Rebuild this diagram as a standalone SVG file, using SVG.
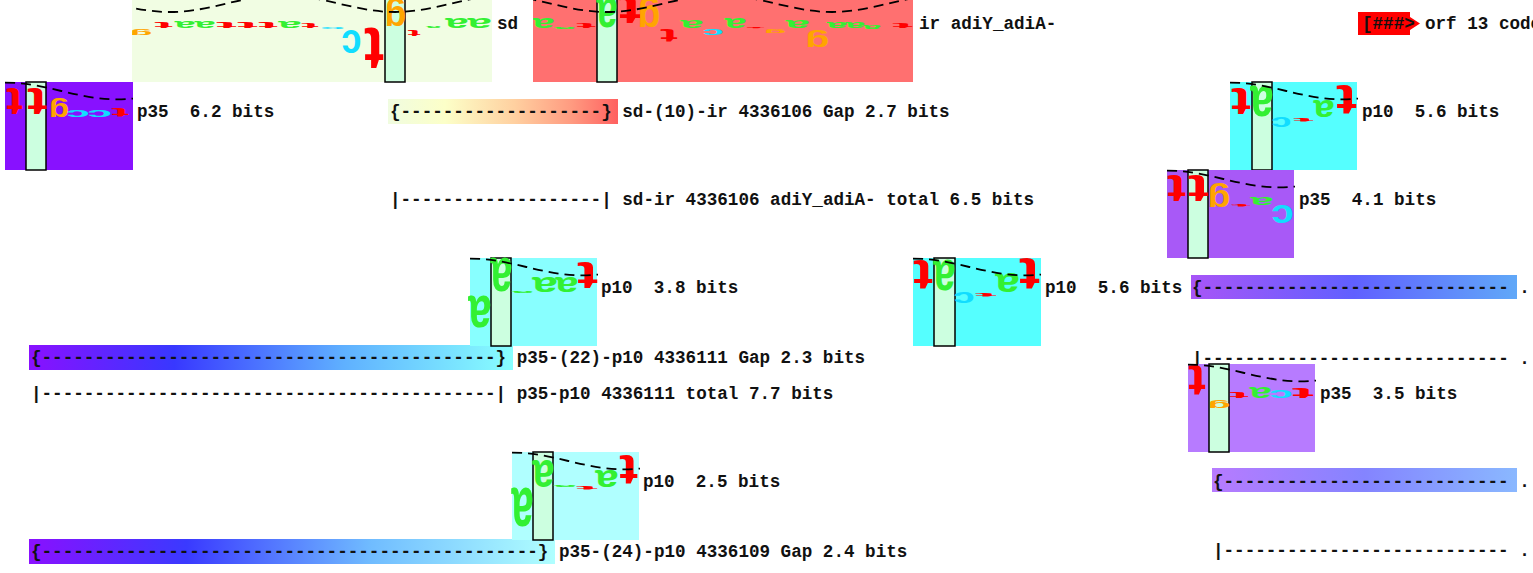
<svg xmlns="http://www.w3.org/2000/svg" xmlns:xlink="http://www.w3.org/1999/xlink" width="1533" height="573" viewBox="0 0 1533 573" xml:space="preserve">
<style>
.lbl{font-family:"Liberation Mono","DejaVu Sans Mono",monospace;font-weight:bold;font-size:17.6px;fill:#111;white-space:pre}
.L{font-family:"Liberation Sans",Arial,sans-serif;font-weight:bold;font-size:100px;text-anchor:middle}
.a{fill:#33F033}.c{fill:#11DDFF}.g{fill:#FFA500}.t{fill:#FF0000}
.col{fill:#CCFFE0;stroke:#000;stroke-width:1.5}
.helix{fill:none;stroke:#000;stroke-width:1.8;stroke-dasharray:10 6}
</style>
<defs>
<path id="hc" d="M0,0.6 C41,0.6 71.5,17.4 112.5,17.4 C118,17.4 123,17 128,16.6"/>
<clipPath id="clipSd"><rect x="132" y="0" width="360" height="82"/></clipPath>
<clipPath id="clipIr"><rect x="533" y="0" width="380" height="82"/></clipPath>
<linearGradient id="gSdIr" x1="0" x2="1" y1="0" y2="0">
<stop offset="0" stop-color="#F0FCE0"/><stop offset="0.25" stop-color="#FCFFC8"/><stop offset="0.55" stop-color="#FFD0A0"/><stop offset="0.8" stop-color="#FF9A80"/><stop offset="1" stop-color="#FF6060"/>
</linearGradient>
<linearGradient id="gL1" x1="0" x2="1" y1="0" y2="0">
<stop offset="0" stop-color="#8A10FF"/><stop offset="0.3" stop-color="#3838FF"/><stop offset="0.65" stop-color="#5FB0FF"/><stop offset="1" stop-color="#88FFFF"/>
</linearGradient>
<linearGradient id="gL2" x1="0" x2="1" y1="0" y2="0">
<stop offset="0" stop-color="#8A10FF"/><stop offset="0.3" stop-color="#3A3AFF"/><stop offset="0.65" stop-color="#70BCFF"/><stop offset="1" stop-color="#B0FFFF"/>
</linearGradient>
<linearGradient id="gR1" x1="0" x2="1" y1="0" y2="0">
<stop offset="0" stop-color="#A855F7"/><stop offset="0.5" stop-color="#6060FF"/><stop offset="1" stop-color="#60A8F8"/>
</linearGradient>
<linearGradient id="gR2" x1="0" x2="1" y1="0" y2="0">
<stop offset="0" stop-color="#B77BFF"/><stop offset="0.5" stop-color="#8484FF"/><stop offset="1" stop-color="#8AB8FF"/>
</linearGradient>
</defs>

<g id="connectors">
<rect x="388" y="99" width="230" height="25" fill="url(#gSdIr)"/>
<rect x="29" y="345" width="484" height="25" fill="url(#gL1)"/>
<rect x="29" y="539" width="526" height="25" fill="url(#gL2)"/>
<rect x="1191" y="275" width="326" height="24" fill="url(#gR1)"/>
<rect x="1212" y="468" width="305" height="24" fill="url(#gR2)"/>
<text class="lbl" x="390" y="117">{-------------------} sd-(10)-ir 4336106 Gap 2.7 bits</text>
<text class="lbl" x="390" y="205">|-------------------| sd-ir 4336106 adiY_adiA- total 6.5 bits</text>
<text class="lbl" x="31" y="363">{-------------------------------------------} p35-(22)-p10 4336111 Gap 2.3 bits</text>
<text class="lbl" x="31" y="399">|-------------------------------------------| p35-p10 4336111 total 7.7 bits</text>
<text class="lbl" x="31" y="557">{-----------------------------------------------} p35-(24)-p10 4336109 Gap 2.4 bits</text>
<text class="lbl" x="1192" y="293">{----------------------------- .</text>
<text class="lbl" x="1192" y="364">|----------------------------- .</text>
<text class="lbl" x="1213" y="487">{--------------------------- .</text>
<text class="lbl" x="1213" y="556">|--------------------------- .</text>
</g>

<g id="orf">
<polygon points="1358,12 1410,12 1410,17 1420,23.5 1410,30 1410,35 1358,35" fill="#FF0000"/>
<text class="lbl" x="1362" y="29">[###&gt;</text>
<text class="lbl" x="1425" y="29">orf 13 code</text>
</g>

<g id="logo-sd">
<rect x="132" y="0" width="360" height="82" fill="#F1FDE3"/>
<rect class="col" x="385" y="-2" width="20" height="84"/>
<g clip-path="url(#clipSd)">
<text class="L g" transform="translate(141 30.7) scale(-0.375 -0.08)">g</text>
<text class="L t" transform="translate(163.5 22) scale(-0.567 -0.0845)">t</text>
<text class="L a" transform="translate(185 21) scale(-0.375 -0.13)">a</text>
<text class="L a" transform="translate(205 21) scale(-0.375 -0.13)">a</text>
<text class="L t" transform="translate(226.5 22) scale(-0.633 -0.0845)">t</text>
<text class="L t" transform="translate(247.5 22) scale(-0.633 -0.0845)">t</text>
<text class="L t" transform="translate(268 22) scale(-0.6 -0.0845)">t</text>
<text class="L a" transform="translate(290 21) scale(-0.417 -0.13)">a</text>
<text class="L t" transform="translate(310 23) scale(-0.533 -0.07)">t</text>
<text class="L c" transform="translate(332.5 27) scale(-0.447 -0.037)">c</text>
<text class="L c" transform="translate(351.5 30) scale(-0.362 -0.426)">c</text>
<text class="L t" transform="translate(374 28) scale(-0.6 -0.62)">t</text>
<text class="L g" transform="translate(395.5 5.56) scale(-0.354 -0.36)">g</text>
<text class="L t" transform="translate(414 30) scale(-0.4 -0.0986)">t</text>
<text class="L a" transform="translate(433.5 26) scale(-0.27 -0.037)">a</text>
<text class="L a" transform="translate(457 18) scale(-0.417 -0.185)">a</text>
<text class="L a" transform="translate(479.5 18) scale(-0.4375 -0.185)">a</text>
</g>
<path class="helix" clip-path="url(#clipSd)" d="M57.5,-4.8 C98.5,-4.8 129,12 170,12 C211,12 241.5,-4.8 282.5,-4.8 C323.5,-4.8 354,12 395,12 C436,12 466.5,-4.8 507.5,-4.8"/>
<text class="lbl" x="497" y="29">sd</text>
</g>

<g id="logo-ir">
<rect x="533" y="0" width="380" height="82" fill="#FF7070"/>
<rect class="col" x="597" y="-2" width="20" height="84"/>
<g clip-path="url(#clipIr)">
<text class="L a" transform="translate(543.5 18) scale(-0.396 -0.185)">a</text>
<text class="L a" transform="translate(564.5 27) scale(-0.396 -0.028)">a</text>
<text class="L t" transform="translate(586 23) scale(-0.6 -0.07)">t</text>
<text class="L a" transform="translate(607 -2) scale(-0.375 -0.556)">a</text>
<text class="L t" transform="translate(630 -4) scale(-0.667 -0.408)">t</text>
<text class="L g" transform="translate(649 5.4) scale(-0.375 -0.4)">g</text>
<text class="L t" transform="translate(669 29) scale(-0.533 -0.183)">t</text>
<text class="L a" transform="translate(692 20) scale(-0.417 -0.148)">a</text>
<text class="L c" transform="translate(713 29) scale(-0.383 -0.111)">c</text>
<text class="L a" transform="translate(735.5 18) scale(-0.396 -0.185)">a</text>
<text class="L t" transform="translate(755.5 27) scale(-0.567 -0.021)">t</text>
<text class="L g" transform="translate(775 30.1) scale(-0.375 -0.053)">g</text>
<text class="L a" transform="translate(797.5 20) scale(-0.4375 -0.148)">a</text>
<text class="L g" transform="translate(817.5 34.76) scale(-0.396 -0.227)">g</text>
<text class="L a" transform="translate(837 22) scale(-0.375 -0.111)">a</text>
<text class="L a" transform="translate(855.5 22) scale(-0.354 -0.111)">a</text>
<text class="L a" transform="translate(872 25) scale(-0.333 -0.074)">a</text>
<text class="L t" transform="translate(902.5 23) scale(-0.633 -0.07)">t</text>
</g>
<path class="helix" clip-path="url(#clipIr)" d="M494.5,-4.8 C535.5,-4.8 566,12 607,12 C648,12 678.5,-4.8 719.5,-4.8 C760.5,-4.8 791,12 832,12 C873,12 903.5,-4.8 944.5,-4.8"/>
<text class="lbl" x="919" y="29">ir adiY_adiA-</text>
</g>

<g id="logo-p35-a">
<rect x="5" y="82" width="128" height="88" fill="#8811FF"/>
<rect class="col" x="26" y="82" width="20" height="88"/>
<text class="L t" transform="translate(14.5 88) scale(-0.5 -0.38)">t</text>
<text class="L t" transform="translate(37 88) scale(-0.6 -0.38)">t</text>
<text class="L g" transform="translate(59 103.3) scale(-0.333 -0.253)">g</text>
<text class="L c" transform="translate(78 110) scale(-0.426 -0.13)">c</text>
<text class="L c" transform="translate(99.5 110) scale(-0.447 -0.13)">c</text>
<text class="L t" transform="translate(120 108) scale(-0.533 -0.127)">t</text>
<use href="#hc" class="helix" x="5" y="82"/>
<text class="lbl" x="137" y="117">p35  6.2 bits</text>
</g>

<g id="logo-p10-a">
<rect x="1230" y="82" width="127" height="88" fill="#55FFFF"/>
<rect class="col" x="1252" y="82" width="20" height="88"/>
<text class="L t" transform="translate(1241 88) scale(-0.6 -0.38)">t</text>
<text class="L a" transform="translate(1262 86) scale(-0.417 -0.574)">a</text>
<text class="L c" transform="translate(1281.5 117) scale(-0.362 -0.185)">c</text>
<text class="L t" transform="translate(1303.5 118) scale(-0.633 -0.056)">t</text>
<text class="L a" transform="translate(1324 100) scale(-0.375 -0.315)">a</text>
<text class="L t" transform="translate(1346.5 85) scale(-0.633 -0.423)">t</text>
<use href="#hc" class="helix" x="1230" y="82"/>
<text class="lbl" x="1362" y="117">p10  5.6 bits</text>
</g>

<g id="logo-p35-b">
<rect x="1167" y="170" width="127" height="88" fill="#A859F7"/>
<rect class="col" x="1188" y="170" width="20" height="88"/>
<text class="L t" transform="translate(1176.5 175) scale(-0.567 -0.394)">t</text>
<text class="L t" transform="translate(1198.5 175) scale(-0.633 -0.394)">t</text>
<text class="L g" transform="translate(1219 189.7) scale(-0.375 -0.32)">g</text>
<text class="L t" transform="translate(1241 204) scale(-0.6 -0.028)">t</text>
<text class="L a" transform="translate(1262 197) scale(-0.417 -0.148)">a</text>
<text class="L c" transform="translate(1282.5 205) scale(-0.404 -0.333)">c</text>
<use href="#hc" class="helix" x="1167" y="170"/>
<text class="lbl" x="1299" y="205">p35  4.1 bits</text>
</g>

<g id="logo-p10-b">
<rect x="470" y="258" width="127" height="88" fill="#88FFFF"/>
<rect class="col" x="491" y="258" width="20" height="88"/>
<text class="L a" transform="translate(480 296) scale(-0.417 -0.593)">a</text>
<text class="L a" transform="translate(501.5 258) scale(-0.396 -0.63)">a</text>
<text class="L a" transform="translate(522.5 291) scale(-0.396 -0.037)">a</text>
<text class="L a" transform="translate(545 277) scale(-0.458 -0.278)">a</text>
<text class="L a" transform="translate(567 277) scale(-0.417 -0.278)">a</text>
<text class="L t" transform="translate(587.5 262) scale(-0.633 -0.394)">t</text>
<use href="#hc" class="helix" x="470" y="258"/>
<text class="lbl" x="601" y="293">p10  3.8 bits</text>
</g>

<g id="logo-p10-c">
<rect x="913" y="258" width="128" height="88" fill="#55FFFF"/>
<rect class="col" x="934" y="258" width="21" height="88"/>
<text class="L t" transform="translate(923 260) scale(-0.6 -0.423)">t</text>
<text class="L a" transform="translate(944.5 260) scale(-0.396 -0.574)">a</text>
<text class="L c" transform="translate(964 292) scale(-0.383 -0.204)">c</text>
<text class="L t" transform="translate(986 293) scale(-0.667 -0.056)">t</text>
<text class="L a" transform="translate(1007.5 273) scale(-0.4375 -0.352)">a</text>
<text class="L t" transform="translate(1029.5 258) scale(-0.633 -0.465)">t</text>
<use href="#hc" class="helix" x="913" y="258"/>
<text class="lbl" x="1045" y="293">p10  5.6 bits</text>
</g>

<g id="logo-p35-c">
<rect x="1188" y="364" width="127" height="88" fill="#B77BFF"/>
<rect class="col" x="1209" y="364" width="20" height="88"/>
<text class="L t" transform="translate(1197 365) scale(-0.533 -0.45)">t</text>
<text class="L g" transform="translate(1219 402.2) scale(-0.375 -0.107)">g</text>
<text class="L t" transform="translate(1239 392) scale(-0.6 -0.0845)">t</text>
<text class="L a" transform="translate(1260.5 387) scale(-0.396 -0.204)">a</text>
<text class="L c" transform="translate(1281 390) scale(-0.426 -0.148)">c</text>
<text class="L t" transform="translate(1303 388) scale(-0.667 -0.141)">t</text>
<use href="#hc" class="helix" x="1188" y="364"/>
<text class="lbl" x="1320" y="399">p35  3.5 bits</text>
</g>

<g id="logo-p10-d">
<rect x="512" y="452" width="127" height="88" fill="#B0FFFF"/>
<rect class="col" x="533" y="452" width="20" height="88"/>
<text class="L a" transform="translate(522.5 488) scale(-0.396 -0.722)">a</text>
<text class="L a" transform="translate(543.5 460) scale(-0.396 -0.5)">a</text>
<text class="L a" transform="translate(565 485) scale(-0.417 -0.028)">a</text>
<text class="L t" transform="translate(587 486) scale(-0.667 -0.056)">t</text>
<text class="L a" transform="translate(607 470) scale(-0.417 -0.315)">a</text>
<text class="L t" transform="translate(628.5 455) scale(-0.567 -0.423)">t</text>
<use href="#hc" class="helix" x="512" y="452"/>
<text class="lbl" x="643" y="487">p10  2.5 bits</text>
</g>
</svg>
